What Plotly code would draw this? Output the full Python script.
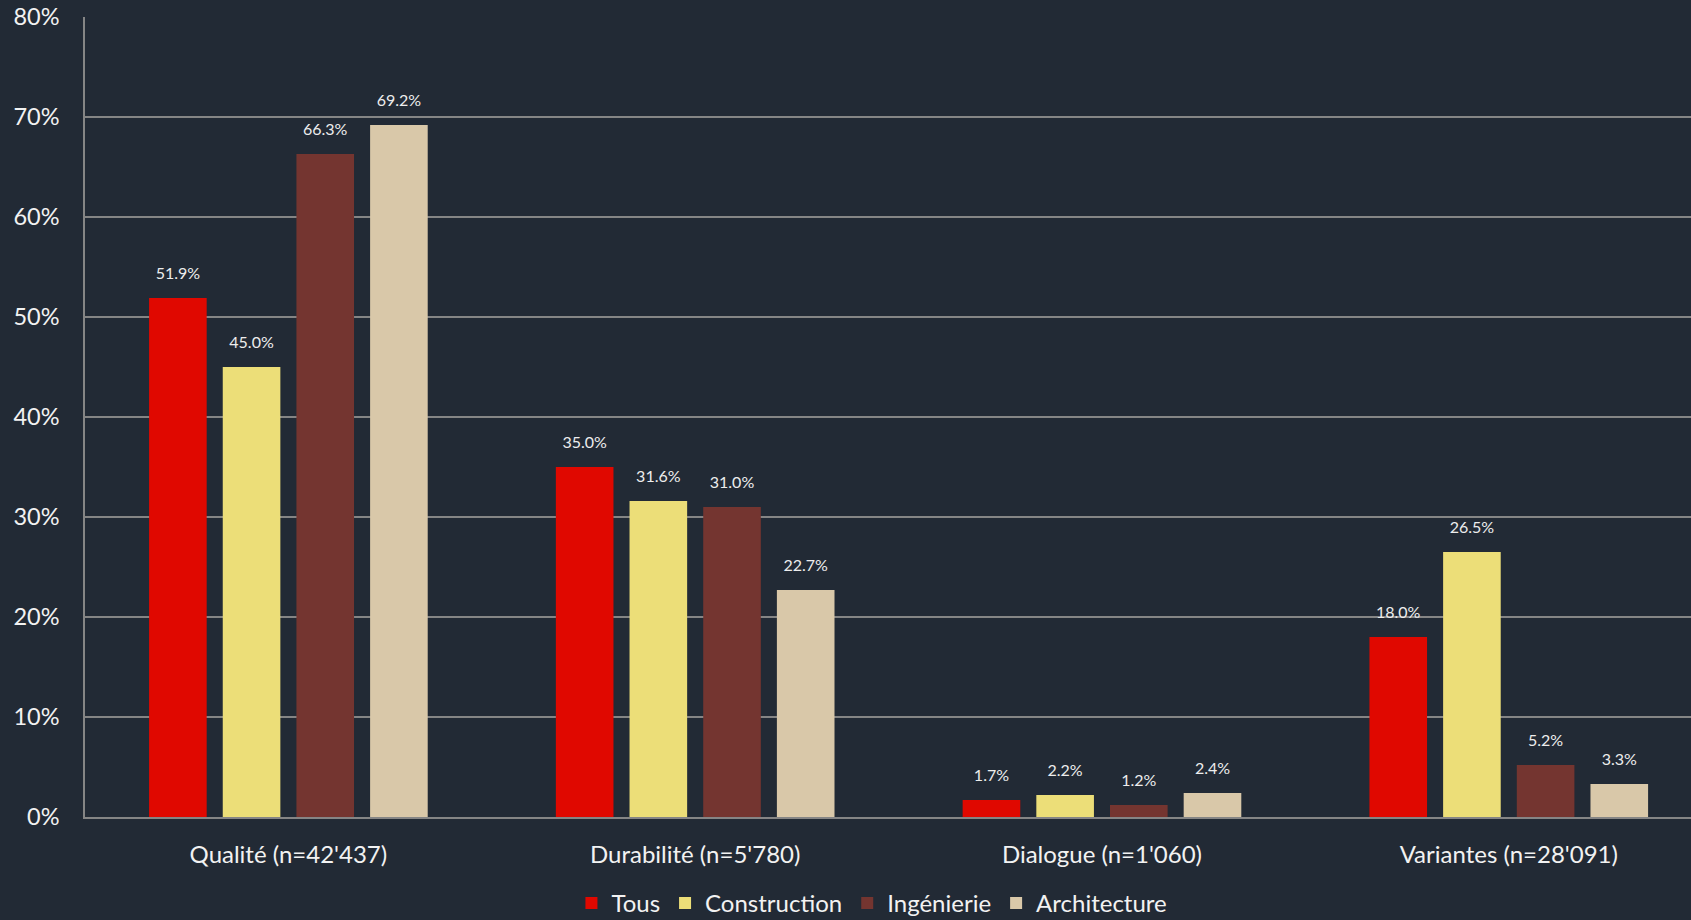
import plotly.graph_objects as go

categories = ["Qualité (n=42'437)", "Durabilité (n=5'780)", "Dialogue (n=1'060)", "Variantes (n=28'091)"]
series_names = ["Tous", "Construction", "Ingénierie", "Architecture"]
tous = [51.9, 35.0, 1.7, 18.0]
construction = [45.0, 31.6, 2.2, 26.5]
ingenierie = [66.3, 31.0, 1.2, 5.2]
architecture = [69.2, 22.7, 2.4, 3.3]
colors = ["#E00800", "#ECDE78", "#743530", "#D9C8A9"]
y_ticks = [0, 10, 20, 30, 40, 50, 60, 70, 80]

BG = "#222A35"
GRID = "#858585"
TXT = "#F2F2F2"
FONT = "Lato, 'Open Sans', sans-serif"

series = [tous, construction, ingenierie, architecture]

fig = go.Figure()
for i, (name, vals, col) in enumerate(zip(series_names, series, colors)):
    fig.add_trace(go.Bar(
        x=categories, y=vals, name=name, marker=dict(color=col, line=dict(width=0)),
        offsetgroup=str(i), hovertemplate="%{x}<br>" + name + ": %{y:.1f}%<extra></extra>",
    ))
for i, (name, vals) in enumerate(zip(series_names, series)):
    fig.add_trace(go.Scatter(
        x=categories, y=vals, mode="markers+text", showlegend=False,
        text=[f"{v:.1f}%" for v in vals], textposition="top center",
        textfont=dict(family=FONT, size=16, color="#EDEDED"),
        marker=dict(size=22, color="rgba(0,0,0,0)"),
        offsetgroup=str(i), hoverinfo="skip",
    ))

n_cat = len(categories)
fig.update_layout(
    width=1691, height=920,
    paper_bgcolor=BG, plot_bgcolor=BG,
    margin=dict(l=85, r=0, t=17, b=103, autoexpand=False),
    barmode="group", bargap=0.2755, bargroupgap=0.218,
    scattermode="group", scattergap=0.2755,
    font=dict(family=FONT, color=TXT),
    showlegend=True,
    legend=dict(orientation="h", x=0.49, xanchor="center", y=-0.108, yanchor="middle",
                font=dict(family=FONT, size=24, color=TXT), bgcolor="rgba(0,0,0,0)",
                traceorder="normal"),
)
fig.update_xaxes(
    type="category", range=[-0.5, n_cat - 0.5 - 0.052],
    showgrid=False, showline=True, linecolor=GRID, linewidth=1.5,
    ticks="", tickfont=dict(family=FONT, size=24, color=TXT), ticklabelstandoff=15,
    fixedrange=True, automargin=False,
)
fig.update_yaxes(
    range=[0, 80], tickvals=y_ticks, ticktext=[f"{t}%" for t in y_ticks],
    showgrid=True, gridcolor=GRID, gridwidth=1.5,
    showline=True, linecolor=GRID, linewidth=1.5, zeroline=False,
    ticks="", tickfont=dict(family=FONT, size=23.5, color=TXT), ticklabelstandoff=19,
    fixedrange=True, automargin=False,
)

fig.write_html(
    "out.html",
    config={"displayModeBar": False},
    post_script="document.body.style.margin='0';document.body.style.background='#222A35';",
)
